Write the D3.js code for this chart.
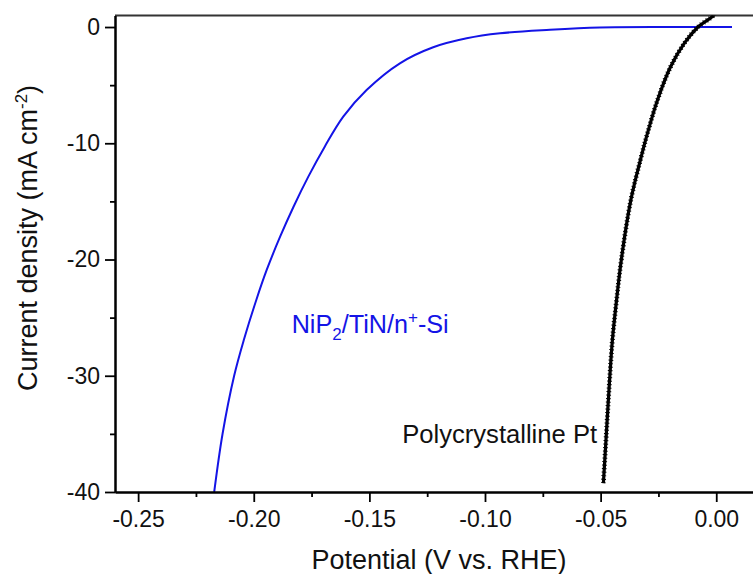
<!DOCTYPE html>
<html>
<head>
<meta charset="utf-8">
<script src="https://cdn.jsdelivr.net/npm/d3@7/dist/d3.min.js"></script>
<style>
  html, body { margin: 0; padding: 0; background: #fff; }
  svg { display: block; font-family: "Liberation Sans", Arial, sans-serif; }
</style>
</head>
<body>
<svg id="chart" width="753" height="574"></svg>
<script>
// NiP2/TiN/n+-Si polarization curve: [potential V vs RHE, current density mA cm-2]
const nip2Curve = [
  [-0.2171, -40], [-0.2135, -35.01], [-0.2085, -30.02], [-0.2043, -26.93],
  [-0.1989, -23.48], [-0.1944, -20.9], [-0.1886, -18.04], [-0.1828, -15.46],
  [-0.1764, -12.87], [-0.1693, -10.29], [-0.1613, -7.71], [-0.1512, -5.42],
  [-0.1368, -3.12], [-0.1224, -1.74], [-0.1079, -0.97], [-0.0935, -0.54],
  [-0.0719, -0.24], [-0.0503, -0.04], [-0.0200, 0], [0.0068, 0]
];

// polycrystalline Pt reference
const ptCurve = [
  [-0.0488, -39.23], [-0.0475, -34.92], [-0.0462, -30.62], [-0.0449, -26.92],
  [-0.0431, -23.48], [-0.0410, -19.95], [-0.0369, -14.85], [-0.0328, -11.44],
  [-0.0297, -9.11], [-0.0254, -6.28], [-0.0198, -3.44], [-0.0137, -1.37],
  [-0.0079, 0.0], [-0.0010, 1.04], [-0.0001, 1.46]
];

const xTicks = [-0.25, -0.20, -0.15, -0.10, -0.05, 0.00];
const xMinorTicks = [-0.225, -0.175, -0.125, -0.075, -0.025];
const yTicks = [0, -10, -20, -30, -40];
const yMinorTicks = [-5, -15, -25, -35];

// annotations placed in data units
const labels = [
  { name: "nip2", v: -0.1836, j: -26.3, color: "#1414e6" },
  { name: "pt", v: -0.1358, j: -35.8, color: "#111" }
];

const svg = d3.select("#chart");
const mLeft = 115, mTop = 15.4, mBottom = 492;

const x = d3.scaleLinear().domain([-0.26, 0.02]).range([mLeft, 762.5]);
const y = d3.scaleLinear().domain([-40, 1]).range([mBottom, mTop]);

const hyphen = f => d => f(d).replace("\u2212", "-");

svg.append("defs").append("clipPath").attr("id", "plotclip")
  .append("rect")
  .attr("x", mLeft).attr("y", mTop)
  .attr("width", x.range()[1] - mLeft).attr("height", mBottom - mTop);

// top frame line
svg.append("line")
  .attr("x1", mLeft).attr("x2", x.range()[1])
  .attr("y1", mTop).attr("y2", mTop)
  .attr("stroke", "#333").attr("stroke-width", 2);

const line = d3.line()
  .x(d => x(d[0]))
  .y(d => y(d[1]))
  .curve(d3.curveCatmullRom.alpha(0.5));

const plot = svg.append("g").attr("clip-path", "url(#plotclip)");

plot.append("path")
  .datum(nip2Curve)
  .attr("fill", "none")
  .attr("stroke", "#1414e6")
  .attr("stroke-width", 2)
  .attr("d", line);

// Pt trace is noisy in the original: solid core plus a rough dashed halo
plot.append("path")
  .datum(ptCurve)
  .attr("fill", "none")
  .attr("stroke", "#000")
  .attr("stroke-width", 3.2)
  .attr("stroke-linejoin", "round")
  .attr("d", line);

plot.append("path")
  .datum(ptCurve)
  .attr("fill", "none")
  .attr("stroke", "#000")
  .attr("stroke-width", 4.8)
  .attr("stroke-dasharray", "1 2.5")
  .attr("d", line);

// axes
function styleAxis(g) {
  g.select(".domain").attr("stroke", "#000").attr("stroke-width", 2);
  g.selectAll(".tick line").attr("stroke", "#000").attr("stroke-width", 1.8);
  g.selectAll(".tick text")
    .attr("fill", "#111")
    .style("font-size", "23px");
}

svg.append("g")
  .attr("transform", `translate(0,${mBottom})`)
  .call(d3.axisBottom(x).tickValues(xMinorTicks).tickFormat("").tickSize(5).tickSizeOuter(0))
  .call(styleAxis);

svg.append("g")
  .attr("transform", `translate(0,${mBottom})`)
  .call(d3.axisBottom(x).tickValues(xTicks).tickFormat(hyphen(d3.format(".2f"))).tickSize(10).tickSizeOuter(0).tickPadding(8.7))
  .call(styleAxis);

svg.append("g")
  .attr("transform", `translate(${mLeft},0)`)
  .call(d3.axisLeft(y).tickValues(yMinorTicks).tickFormat("").tickSize(5).tickSizeOuter(0))
  .call(styleAxis);

svg.append("g")
  .attr("transform", `translate(${mLeft},0)`)
  .call(d3.axisLeft(y).tickValues(yTicks).tickFormat(hyphen(d3.format("d"))).tickSize(10).tickSizeOuter(0).tickPadding(5))
  .call(styleAxis);

// axis titles
svg.append("text")
  .attr("x", 439).attr("y", 569)
  .attr("text-anchor", "middle")
  .attr("fill", "#111")
  .style("font-size", "27px")
  .text("Potential (V vs. RHE)");

const yTitle = svg.append("text")
  .attr("transform", "translate(37,238) rotate(-90)")
  .attr("text-anchor", "middle")
  .attr("fill", "#111")
  .style("font-size", "27px");
yTitle.append("tspan").text("Current density (mA cm");
yTitle.append("tspan").attr("dy", -10).style("font-size", "17px").text("-2");
yTitle.append("tspan").attr("dy", 10).text(")");

// curve labels
const nipLab = labels[0];
const nip = svg.append("text")
  .attr("x", x(nipLab.v)).attr("y", y(nipLab.j))
  .attr("fill", nipLab.color)
  .style("font-size", "25.2px");
nip.append("tspan").text("NiP");
nip.append("tspan").attr("dy", 7).style("font-size", "17px").text("2");
nip.append("tspan").attr("dy", -7).text("/TiN/n");
nip.append("tspan").attr("dy", -10).style("font-size", "17px").text("+");
nip.append("tspan").attr("dy", 10).text("-Si");

const ptLab = labels[1];
svg.append("text")
  .attr("x", x(ptLab.v)).attr("y", y(ptLab.j))
  .attr("fill", ptLab.color)
  .style("font-size", "25.6px")
  .text("Polycrystalline Pt");
</script>
</body>
</html>
